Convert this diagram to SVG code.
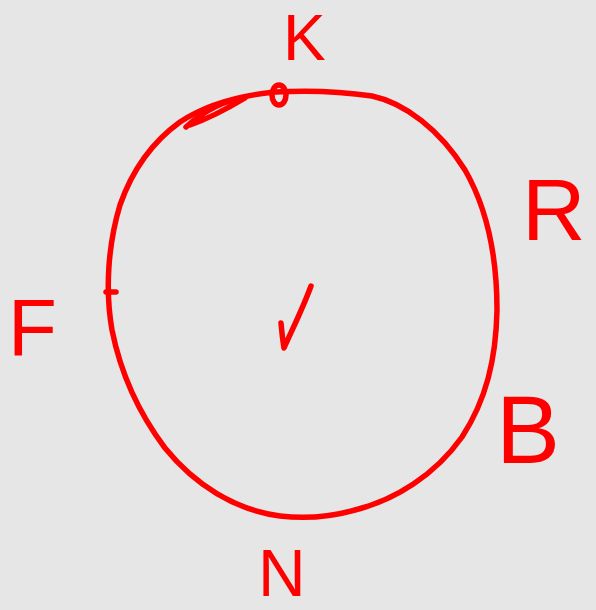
<svg xmlns="http://www.w3.org/2000/svg" width="596" height="610" viewBox="0 0 596 610">
<style>
.ink{fill:none;stroke:#ff0000;stroke-width:5.5;stroke-linecap:round;stroke-linejoin:round}
.lbl{fill:#ff0000;font-family:"Liberation Sans",Arial,sans-serif}
</style>
<rect width="596" height="610" fill="#e6e6e6"/>
<g id="circle">
<path class="ink" d="M275,92 C310,90 345,92 372,96 C405,103 440,130 465,170 C488,210 497,260 497,310 C496,360 486,400 462,437 C435,475 395,500 355,510 C330,517 305,519 280,516 C235,510 195,485 165,448 C138,412 120,370 112,330 C105,290 108,245 120,205 C133,168 155,140 180,122 C210,102 245,95 275,92"/>
<path class="ink" d="M186,127 C205,110 225,100 245,98 C235,104 210,118 190,125"/>
<ellipse class="ink" cx="279" cy="95" rx="7" ry="10"/>
<path class="ink" d="M106,292 L116,292"/>
</g>
<g id="check">
<path class="ink" d="M281,323 C282,335 283,342 284,348 C292,330 303,308 311,286"/>
</g>
<g id="K"><text class="lbl" x="283" y="60" font-size="64">K</text></g>
<g id="R"><text class="lbl" x="522" y="240" font-size="88">R</text></g>
<g id="F"><text class="lbl" x="8" y="355" font-size="80">F</text></g>
<g id="B"><text class="lbl" x="496" y="463" font-size="96">B</text></g>
<g id="N"><text class="lbl" x="258" y="596" font-size="66">N</text></g>
</svg>
